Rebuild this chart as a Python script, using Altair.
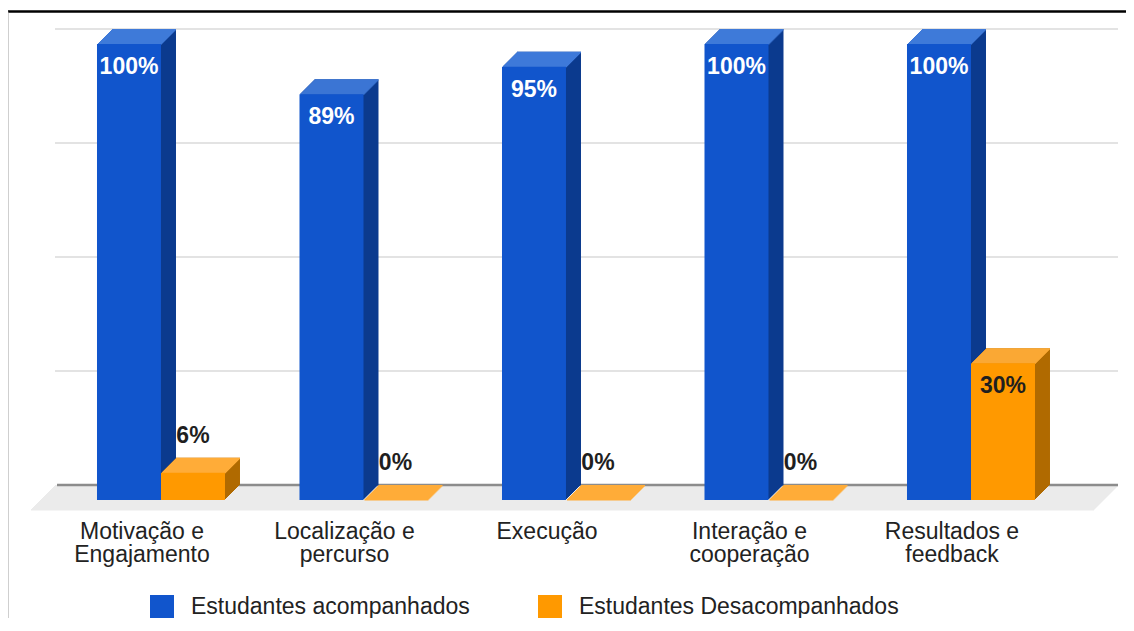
import altair as alt
import pandas as pd

# ---------------- data ----------------
categories = [
    "Motivação e Engajamento",
    "Localização e percurso",
    "Execução",
    "Interação e cooperação",
    "Resultados e feedback",
]
series_names = ["Estudantes acompanhados", "Estudantes Desacompanhados"]
acompanhados = [100, 89, 95, 100, 100]
desacompanhados = [6, 0, 0, 0, 30]
grid_values = [25, 50, 75, 100]

# ---------------- style ----------------
front_colors = ["#1155cc", "#ff9900"]
top_colors = ["#3f7ad9", "#ffac38"]
side_colors = ["#0b3a8e", "#b06a00"]
offsets = [-32, 32]

W, H = 1063, 456
DEPTH = 15
BAR_W = 64
FONT = "Liberation Sans"

df_a = pd.DataFrame({"cat": categories, "series": series_names[0], "v": acompanhados})
df_d = pd.DataFrame({"cat": categories, "series": series_names[1], "v": desacompanhados})
one = pd.DataFrame({"z": [0]})
grid_df = pd.DataFrame({"g": grid_values})

label_expr = (
    "indexof(datum.label, ' e ') > 0 ? "
    "[slice(datum.label, 0, indexof(datum.label, ' e ') + 2), "
    "slice(datum.label, indexof(datum.label, ' e ') + 3)] : datum.label"
)

x_enc = alt.X(
    "cat:N",
    sort=categories,
    scale=alt.Scale(domain=categories, paddingInner=0.363, paddingOuter=0.3062, align=0.4556),
    axis=alt.Axis(
        title=None, domain=False, ticks=False, tickSize=0, grid=False, labelAngle=0,
        labelFont=FONT, labelFontSize=23, labelColor="#222222", labelPadding=20,
        labelLineHeight=23, labelOffset=-19, labelLimit=400, labelExpr=label_expr,
    ),
)
y_scale = alt.Scale(domain=[0, 100], nice=False, zero=True)
y_enc = alt.Y("v:Q", scale=y_scale, axis=None)

color_enc = alt.Color(
    "series:N",
    scale=alt.Scale(domain=series_names, range=front_colors),
    legend=alt.Legend(
        title=None, orient="none", legendX=110, legendY=551, direction="horizontal",
        symbolType="square", symbolSize=576, symbolStrokeWidth=0, symbolOpacity=1,
        labelFont=FONT, labelFontSize=23, labelColor="#222222", labelOffset=17,
        columnPadding=68, padding=0, labelLimit=500,
    ),
)

layers = []

# frame lines
layers.append(
    alt.Chart(one).mark_rule(color="#000000", strokeWidth=2.3)
    .encode(x=alt.value(-32), x2=alt.value(W + 40), y=alt.value(-32.5))
)
layers.append(
    alt.Chart(one).mark_rule(color="#a0a0a0", strokeWidth=1)
    .encode(x=alt.value(-32), y=alt.value(-32.5), y2=alt.value(H + 130))
)

# floor (swept strip at zero)
for k in range(-9, DEPTH + 1):
    layers.append(
        alt.Chart(one).mark_rect(color="#ebebeb", yOffset=-k, y2Offset=-k + 1.4)
        .encode(
            x=alt.value(k), x2=alt.value(W + k),
            y=alt.YDatum(0, scale=y_scale, axis=None), y2=alt.Y2Datum(0),
        )
    )

# gridlines on back plane
layers.append(
    alt.Chart(grid_df).mark_rule(color="#dadada", strokeWidth=1.5, yOffset=-DEPTH)
    .encode(x=alt.value(DEPTH), x2=alt.value(W + DEPTH), y=alt.Y("g:Q", scale=y_scale, axis=None))
)
# zero line on back plane
layers.append(
    alt.Chart(one).mark_rule(color="#8c8c8c", strokeWidth=2.5, yOffset=-DEPTH)
    .encode(x=alt.value(DEPTH + 2), x2=alt.value(W + DEPTH), y=alt.YDatum(0, scale=y_scale, axis=None))
)


def bar_layers(data, i):
    base = alt.Chart(data)
    out = []
    for k in range(1, DEPTH + 1):
        out.append(
            base.mark_bar(width=BAR_W, color=side_colors[i], xOffset=offsets[i] + k,
                          yOffset=-k, y2Offset=-k)
            .encode(x=x_enc, y=y_enc)
        )
    for k in range(1, DEPTH + 1):
        out.append(
            base.mark_bar(width=BAR_W, color=top_colors[i], xOffset=offsets[i] + k,
                          yOffset=-k, y2Offset=-k + 1.5)
            .encode(x=x_enc, y=y_enc, y2=alt.Y2("v:Q"))
        )
    out.append(
        base.mark_bar(width=BAR_W, xOffset=offsets[i])
        .encode(x=x_enc, y=y_enc, color=color_enc)
    )
    return out


layers += bar_layers(df_a, 0)
layers += bar_layers(df_d, 1)

# value labels
layers.append(
    alt.Chart(df_a).transform_calculate(label="datum.v + '%'")
    .mark_text(dx=offsets[0], dy=30, baseline="alphabetic", font=FONT, fontSize=23,
               fontWeight="bold", color="white")
    .encode(x=x_enc, y=y_enc, text="label:N")
)
layers.append(
    alt.Chart(df_d).transform_calculate(label="datum.v + '%'").transform_filter("datum.v >= 15")
    .mark_text(dx=offsets[1], dy=30, baseline="alphabetic", font=FONT, fontSize=23,
               fontWeight="bold", color="#1f1f1f")
    .encode(x=x_enc, y=y_enc, text="label:N")
)
layers.append(
    alt.Chart(df_d).transform_calculate(label="datum.v + '%'").transform_filter("datum.v < 15")
    .mark_text(dx=offsets[1], dy=-30, baseline="alphabetic", font=FONT, fontSize=23,
               fontWeight="bold", color="#1f1f1f")
    .encode(x=x_enc, y=y_enc, text="label:N")
)

chart = (
    alt.layer(*layers)
    .properties(
        width=W, height=H,
        autosize=alt.AutoSizeParams(type="none"),
        padding={"left": 32, "top": 36, "right": 23, "bottom": 118},
        background="white",
    )
    .configure_view(strokeWidth=0)
)

chart.save("out.html", embed_options={"renderer": "svg", "actions": False})
